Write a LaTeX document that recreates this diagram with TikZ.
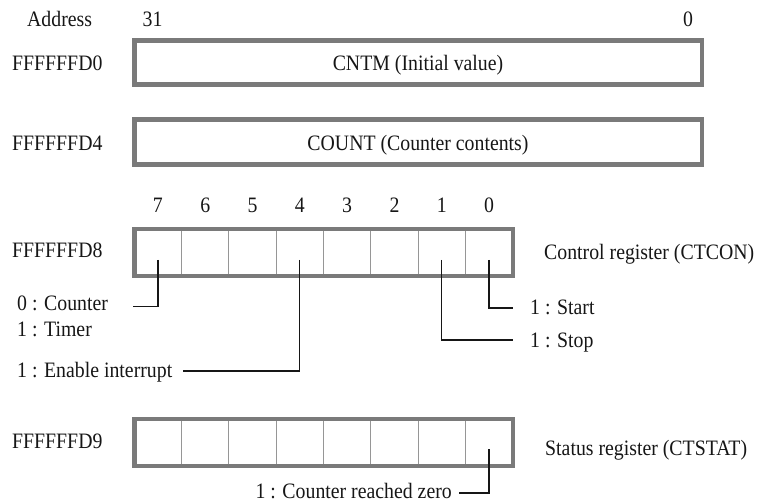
\documentclass[tikz,border=0pt]{standalone}
\usepackage{fontspec}
\setmainfont{Liberation Serif}[FakeStretch=0.9]
\definecolor{bordergray}{RGB}{122,122,122}
\definecolor{cellgray}{RGB}{150,150,150}
\definecolor{ink}{RGB}{22,22,22}
\tikzset{
  txt/.style={inner sep=0pt, text=ink, font=\fontsize{22}{24}\selectfont},
  regborder/.style={draw=bordergray, line width=4.5pt},
  bigbox/.style={draw=bordergray, line width=4.5pt, minimum width=567.5pt, inner sep=0pt},
  cell/.style={draw=cellgray, line width=1pt, minimum width=47.3125pt, minimum height=47pt, inner sep=0pt, outer sep=0pt},
  conn/.style={draw=ink, line width=1.3pt},
}
\begin{document}
\begin{tikzpicture}[x=1pt,y=-1pt]
\useasboundingbox (0,0) rectangle (757,502);

% header
\node[txt, anchor=base west] (addr) at (27,27) {Address};
\node[txt, anchor=base] (b31) at (152.5,27) {31};
\node[txt, anchor=base] (b0) at (688,27) {0};

% CNTM
\node[bigbox, minimum height=44pt] (cntm) at (418,62.5) {};
\node[txt, anchor=base west] (a0) at (12,71) {FFFFFFD0};
\node[txt, anchor=base] (cntmt) at (418,71) {CNTM (Initial value)};

% COUNT
\node[bigbox, minimum height=45pt] (count) at (418,142) {};
\node[txt, anchor=base west] (a4) at (12,151) {FFFFFFD4};
\node[txt, anchor=base] (countt) at (418,151) {COUNT (Counter contents)};

% CTCON
\foreach \b in {0,...,7} {
  \node[cell] (r\b) at ({512.75-47.3125*(\b+0.5)},252.5) {};
  \node[txt, anchor=base] (n\b) at ({512.75-47.3125*(\b+0.5)},213) {\b};
}
\draw[regborder] (r7.north west) rectangle (r0.south east);
\node[txt, anchor=base west] (a8) at (12,258) {FFFFFFD8};
\node[txt, anchor=base west] (ctcon) at (544,260) {Control register (CTCON)};

\node[txt, anchor=base west] (lcnt) at (17,310.5) {0 : Counter};
\node[txt, anchor=base west] (ltim) at (17,337) {1 : Timer};
\node[txt, anchor=base west] (lint) at (17,377) {1 : Enable interrupt};
\node[txt, anchor=base west] (lsta) at (530,315) {1 : Start};
\node[txt, anchor=base west] (lsto) at (530,347) {1 : Stop};

\coordinate (e7) at (133,306.7);
\coordinate (e4) at (183,371);
\coordinate (e1) at (513,340);
\coordinate (e0) at (513,308);
\draw[conn] ([yshift=-7.5pt]r7.center) |- (e7);
\draw[conn] ([yshift=-7.5pt]r4.center) |- (e4);
\draw[conn] ([yshift=-7.5pt]r1.center) |- (e1);
\draw[conn] ([yshift=-7.5pt]r0.center) |- (e0);

% CTSTAT
\foreach \b in {0,...,7} {
  \node[cell] (s\b) at ({512.75-47.3125*(\b+0.5)},442.5) {};
}
\draw[regborder] (s7.north west) rectangle (s0.south east);
\node[txt, anchor=base west] (a9) at (12,448) {FFFFFFD9};
\node[txt, anchor=base west] (ctstat) at (545,455) {Status register (CTSTAT)};
\node[txt, anchor=base east] (lzero) at (452,498) {1 : Counter reached zero};
\coordinate (ez) at (459,493);
\draw[conn] ([yshift=-6.5pt]s0.center) |- (ez);
\end{tikzpicture}
\end{document}
